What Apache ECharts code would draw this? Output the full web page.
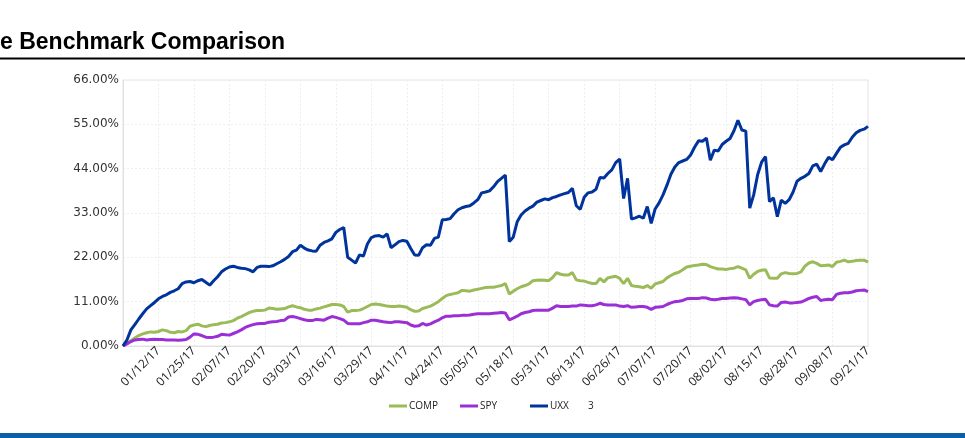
<!DOCTYPE html>
<html>
<head>
<meta charset="utf-8">
<script src="https://cdn.jsdelivr.net/npm/echarts@6/dist/echarts.min.js"></script>
<style>
html,body{margin:0;padding:0;background:#fff;}
#chart{width:965px;height:438px;}
</style>
</head>
<body>
<div id="chart"></div>
<script>
// Categories: every weekday from 12/30/16 to 09/21/17
var startDate = new Date(2016, 11, 30);
var endDate = new Date(2017, 8, 21);
var dates = [];
for (var d = new Date(startDate); d <= endDate; d.setDate(d.getDate() + 1)) {
  var wd = d.getDay();
  if (wd === 0 || wd === 6) continue;
  var mm = ('0' + (d.getMonth() + 1)).slice(-2);
  var dd = ('0' + d.getDate()).slice(-2);
  var yy = String(d.getFullYear()).slice(-2);
  dates.push(mm + '/' + dd + '/' + yy);
}

var seriesNames = ['COMP', 'SPY', 'UXX'];

var comp = [
0,0.6,1.3,2.0,2.6,3.0,3.3,3.5,3.4,3.6,
4.0,3.8,3.4,3.3,3.6,3.5,3.8,4.9,5.2,5.4,
5.0,4.8,5.1,5.3,5.4,5.7,5.8,6.0,6.3,6.9,
7.3,7.8,8.3,8.6,8.8,8.8,8.9,9.4,9.3,9.1,
9.2,9.3,9.7,10.0,9.7,9.5,9.1,8.9,8.9,9.2,
9.4,9.7,10.0,10.3,10.3,10.2,9.8,8.4,8.8,8.8,
8.9,9.3,9.8,10.3,10.4,10.3,10.1,9.9,9.8,9.8,
9.9,9.8,9.6,9.0,8.6,8.7,9.3,9.6,9.9,10.4,
11.0,11.8,12.5,12.8,13.0,13.2,13.8,13.7,13.6,13.9,
14.1,14.3,14.5,14.6,14.6,14.8,15.0,15.5,12.9,13.6,
14.2,14.7,15.0,15.4,16.2,16.3,16.4,16.3,16.2,17.0,
18.2,17.8,17.6,17.6,18.2,16.4,16.2,16.1,15.8,15.5,
15.5,16.8,15.9,16.9,17.1,17.3,16.8,15.5,16.8,15.0,
14.8,14.7,14.5,15.0,14.3,15.4,15.7,16.0,16.9,17.5,
18.0,18.3,18.9,19.6,19.8,20.0,20.1,20.3,20.2,19.7,
19.4,19.1,19.1,19.0,19.2,19.3,19.7,19.3,18.9,16.8,
17.8,18.5,18.8,18.9,16.9,16.8,16.8,17.9,18.2,18.0,
17.9,18.0,18.4,19.8,20.6,20.9,20.5,19.9,20.0,20.1,
19.7,20.8,21.0,21.3,20.9,21.0,21.2,21.3,21.3,20.8
];

var spy = [
0,0.5,1.1,1.5,1.6,1.7,1.5,1.6,1.7,1.6,
1.6,1.5,1.5,1.5,1.4,1.5,1.6,2.2,3.0,2.9,
2.6,2.2,2.1,2.2,2.4,2.9,2.8,2.7,3.1,3.5,
4.0,4.6,5.0,5.3,5.5,5.6,5.6,5.9,6.0,6.1,
6.3,6.4,7.2,7.3,7.1,6.8,6.5,6.3,6.3,6.6,
6.5,6.4,6.9,7.3,7.1,6.8,6.4,5.6,5.5,5.5,
5.5,5.8,6.0,6.4,6.4,6.2,6.0,5.9,5.8,6.0,
6.0,5.9,5.8,5.2,4.9,5.0,5.6,5.2,5.5,6.0,
6.4,7.0,7.4,7.4,7.5,7.5,7.6,7.6,7.7,7.9,
8.0,8.0,8.0,8.0,8.1,8.2,8.3,8.2,6.5,6.9,
7.4,8.0,8.3,8.5,8.8,8.9,8.9,8.9,8.9,9.4,
10.0,9.8,9.8,9.8,9.9,9.9,10.2,10.1,10.0,10.0,
10.2,10.6,10.3,10.2,10.2,10.2,9.9,9.8,10.0,9.6,
9.7,9.8,9.8,9.6,9.1,9.6,9.7,9.8,10.3,10.7,
11.0,11.1,11.3,11.7,11.8,11.8,11.8,12.0,11.9,11.6,
11.5,11.6,11.8,11.8,11.9,12.0,11.9,11.7,11.5,10.2,
11.0,11.3,11.5,11.6,10.2,10.0,9.9,10.8,10.9,10.7,
10.7,10.8,10.9,11.3,11.8,12.1,12.3,11.3,11.5,11.6,
11.5,12.8,13.1,13.2,13.2,13.4,13.7,13.8,13.9,13.5
];

var uxx = [
0,1.5,4.0,5.3,6.7,8.0,9.2,10.0,10.8,11.7,
12.3,12.7,13.3,13.7,14.2,15.5,15.9,16.0,15.7,16.2,
16.5,15.8,15.1,16.2,17.2,18.4,19.1,19.6,19.8,19.5,
19.3,19.2,18.9,18.4,19.5,19.8,19.8,19.7,19.9,20.4,
20.9,21.5,22.2,23.4,23.8,25.0,24.3,23.8,23.6,23.5,
25.0,25.7,26.1,26.6,28.2,28.9,29.4,22.0,21.3,20.6,
22.6,22.3,25.3,26.9,27.3,27.4,27.0,27.8,24.4,25.1,
25.9,26.2,26.0,24.2,22.6,22.5,24.4,25.1,25.0,26.7,
27.0,31.3,31.4,31.6,32.8,33.8,34.3,34.6,34.8,35.5,
36.3,38.0,38.2,38.5,39.5,40.8,41.6,42.4,25.9,27.0,
30.8,32.5,33.5,34.2,34.7,35.7,36.1,36.5,36.3,36.8,
37.1,37.5,37.8,38.1,39.1,34.8,33.9,36.9,38.0,38.2,
38.9,41.8,41.7,42.8,43.7,45.5,46.4,36.6,41.6,31.5,
31.8,32.2,31.7,34.6,30.4,34.0,35.5,37.5,39.9,42.6,
44.4,45.5,45.9,46.3,47.4,49.3,50.9,50.8,51.6,46.1,
48.6,48.4,50.0,50.8,51.5,53.4,56.0,53.6,53.3,34.2,
37.5,42.5,45.6,47.0,35.8,36.8,32.1,36.2,35.4,36.3,
38.2,40.9,41.6,42.1,42.8,44.7,45.1,43.3,45.2,46.8,
46.2,47.8,49.3,49.9,50.3,51.8,52.9,53.5,53.8,54.5
];

var yTicks = [0, 11, 22, 33, 44, 55, 66];

var chart = echarts.init(document.getElementById('chart'), null, {renderer: 'canvas'});
var colors = ['#9bbb59', '#9b2fd6', '#00349c'];
function mk(name, data, color) {
  return {
    name: name, type: 'line', data: data, showSymbol: false, symbol: 'none',
    lineStyle: {width: 3, color: color}, itemStyle: {color: color},
    animation: false
  };
}
var legendLefts = [389, 460, 530];
var legends = seriesNames.map(function (n, i) {
  return {
    left: legendLefts[i], top: 401, itemWidth: 18, itemHeight: 3, itemGap: 0,
    icon: 'rect', padding: 0,
    textStyle: {fontFamily: 'Open Sans', fontSize: 10, color: '#222', padding: [0, 0, 0, -3]},
    data: [n]
  };
});
chart.setOption({
  animation: false,
  color: colors,
  grid: {left: 123, right: 97, top: 80, bottom: 92, show: true, borderColor: '#e4e4e4', borderWidth: 1},
  legend: legends,
  xAxis: {
    type: 'category', data: dates, boundaryGap: false,
    axisLine: {lineStyle: {color: '#e0e0e0'}},
    axisTick: {show: false},
    axisLabel: {
      interval: 8, rotate: 45, fontFamily: 'Open Sans', fontSize: 12, color: '#222',
      showMinLabel: false, margin: 3
    },
    splitLine: {show: true, interval: 8, lineStyle: {color: '#eeeeee', type: [2, 2]}}
  },
  yAxis: {
    type: 'value', min: yTicks[0], max: yTicks[yTicks.length - 1], interval: 11,
    axisLine: {show: true, lineStyle: {color: '#e0e0e0'}},
    axisTick: {show: false},
    axisLabel: {
      fontFamily: 'DejaVu Sans', fontSize: 12, color: '#333', margin: 4,
      formatter: function (v) { return v.toFixed(2) + '%'; }
    },
    splitLine: {show: true, lineStyle: {color: '#eeeeee', type: [2, 2]}}
  },
  graphic: [
    {type: 'text', left: 0, top: 31, style: {text: 'e Benchmark Comparison', font: 'bold 23px "Liberation Sans", Arial, sans-serif', fill: '#000'}},
    {type: 'rect', shape: {x: 0, y: 57.5, width: 965, height: 2}, style: {fill: '#000'}},
    {type: 'rect', shape: {x: 0, y: 433, width: 965, height: 5}, style: {fill: '#0b5fa5'}},
    {type: 'text', left: 588, top: 401, style: {text: '3', font: '10px "Open Sans"', fill: '#222'}}
  ],
  series: [mk('COMP', comp, colors[0]), mk('SPY', spy, colors[1]), mk('UXX', uxx, colors[2])]
});
</script>
</body>
</html>
